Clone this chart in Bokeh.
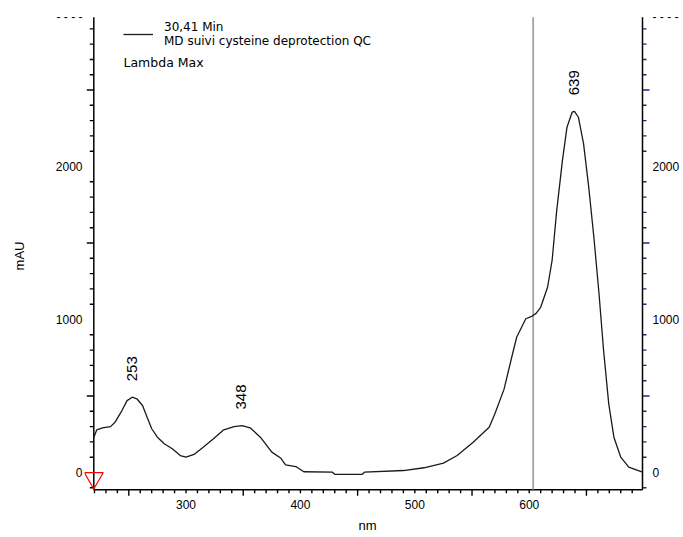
import math
from bokeh.plotting import figure
from bokeh.models import (Range1d, LinearAxis, FixedTicker, Label, Legend, LegendItem)
from bokeh.core.properties import value
from bokeh.embed import file_html
from bokeh.resources import INLINE

# ---------------- data ----------------
wavelength_nm = [219.5, 222, 227, 234, 238, 244, 248.5, 253, 257, 262, 266, 270, 275, 281,
                 288, 295, 300, 307, 315, 324, 333, 342, 349, 356, 365, 375, 383, 387, 396,
                 403, 428, 430, 454, 456, 490, 508, 525, 537, 551, 565, 570, 578, 584, 589,
                 597, 602, 606, 610, 616, 620, 624, 629, 633, 637.5, 639.5, 643, 647.5, 652,
                 656.5, 661, 665, 669.5, 674, 680, 687, 699]
absorbance_mau = [231, 279, 292, 300, 329, 405, 470, 492, 482, 438, 361, 286, 231, 188,
                  155, 111, 100, 118, 165, 220, 279, 300, 307, 292, 231, 133, 93, 50, 39,
                  5, 2, -12, -12, 2, 13, 31, 61, 111, 198, 296, 384, 545, 732, 884,
                  1005, 1020, 1040, 1080, 1211, 1386, 1712, 2039, 2257, 2355, 2361, 2322, 2148, 1865,
                  1538, 1168, 797, 449, 231, 100, 35, 2]

peak_nm = [253, 348, 639]
peak_mau = [492, 307, 2361]
peak_labels = ["253", "348", "639"]

x_tick_labels = [300, 400, 500, 600]
y_tick_labels = [0, 1000, 2000]
cursor_nm = [603.4]

legend_text = "30,41 Min\nMD suivi cysteine deprotection QC"
info_text = "Lambda Max"
x_title = "nm"
y_title = "mAU"

# axis extents of the plotted area
x_start, x_end = 219.4, 699.0
y_start, y_end = -113.0, 2976.0

# ---------------- layout (pixels) ----------------
W, H = 683, 537
AX_L, AX_R, AX_T, AX_B = 93.3, 642.0, 16.7, 489.3      # where the axis lines sit
FR_L, FR_R, FR_T, FR_B = 84, 650, 15, 496              # frame incl. room for the ticks
nm_px = (x_end - x_start) / (AX_R - AX_L)
mau_px = (y_end - y_start) / (AX_B - AX_T)

FONT = "Liberation Sans"
LEG_FONT = "DejaVu Sans"
TICK_FS = "12px"
TICK_W = 1.4

p = figure(width=W, height=H, output_backend="svg", toolbar_location=None,
           x_range=Range1d(x_start - (AX_L - FR_L) * nm_px, x_end + (FR_R - AX_R) * nm_px),
           y_range=Range1d(y_start - (FR_B - AX_B) * mau_px, y_end + (AX_T - FR_T) * mau_px),
           x_axis_location=None, y_axis_location=None,
           min_border_left=FR_L, min_border_right=W - FR_R,
           min_border_top=FR_T, min_border_bottom=H - FR_B)
p.grid.visible = False
p.outline_line_color = None
p.background_fill_color = None
p.border_fill_color = None

# ---- tick positions ----
y_long = [v for v in range(500, 3000, 1000)]
y_short = [v for v in range(-100, 3000, 100) if v % 500 != 0]
x_long = [v for v in range(250, 700, 100)]
x_short = [v for v in range(220, 700, 10) if v not in x_long]


# ---- axis lines and tick marks (drawn as segments, in data space) ----
def vticks(x_axis, values, length_px, direction, color):
    n = len(values)
    p.segment(x0=[x_axis] * n, y0=values,
              x1=[x_axis + direction * length_px * nm_px] * n, y1=values,
              line_color=color, line_width=TICK_W)


def hticks(values, length_px, color):
    n = len(values)
    p.segment(x0=values, y0=[y_start] * n, x1=values,
              y1=[y_start - length_px * mau_px] * n, line_color=color, line_width=TICK_W)


vticks(x_start, y_long, 7, -1, "black")
vticks(x_start, y_short, 4, -1, "black")
vticks(x_end, y_long, 7, 1, "#23238f")
vticks(x_end, y_short, 4, 1, "#23238f")
hticks(x_long, 6, "black")
hticks(x_short, 3.5, "black")

p.segment(x0=[x_start, x_end, x_start], y0=[y_start, y_start, y_start],
          x1=[x_start, x_end, x_end], y1=[y_end, y_end, y_start],
          line_color="black", line_width=1.5)

# cursor line
p.segment(x0=cursor_nm, y0=[y_start], x1=cursor_nm, y1=[y_end],
          line_color="#8c8c8c", line_width=1.4)

# ---- label-only axes ----
y_top = y_end
top_mark = "- - - -"


def y_label_axis(standoff):
    over = {v: str(v) for v in y_tick_labels}
    over[y_top] = top_mark
    return LinearAxis(ticker=FixedTicker(ticks=y_tick_labels + [y_top], minor_ticks=[]),
                      major_label_overrides=over,
                      major_tick_out=0, major_tick_in=0, axis_line_color=None,
                      major_tick_line_color=None, minor_tick_line_color=None,
                      major_label_standoff=standoff, major_label_text_font=FONT,
                      major_label_text_font_size=TICK_FS, major_label_text_color="black")


left_lab = y_label_axis(int(round(FR_L - 82)))
left_lab.axis_label = y_title
left_lab.axis_label_standoff = 26
left_lab.axis_label_text_font = FONT
left_lab.axis_label_text_font_size = "13px"
left_lab.axis_label_text_font_style = "normal"
left_lab.axis_label_text_color = "black"
p.add_layout(left_lab, "left")
p.add_layout(y_label_axis(2), "right")

bottom_lab = LinearAxis(ticker=FixedTicker(ticks=x_tick_labels, minor_ticks=[]),
                        major_tick_out=0, major_tick_in=0, axis_line_color=None,
                        major_tick_line_color=None, minor_tick_line_color=None,
                        major_label_standoff=3, major_label_text_font=FONT,
                        major_label_text_font_size=TICK_FS, major_label_text_color="black",
                        axis_label=x_title,
                        axis_label_standoff=6, axis_label_text_font=FONT,
                        axis_label_text_font_size="13px", axis_label_text_font_style="normal",
                        axis_label_text_color="black")
p.add_layout(bottom_lab, "below")

# spectrum
line_r = p.line(wavelength_nm, absorbance_mau, line_color="#1a1a1a", line_width=1.3)

# peak labels
p.text(x=peak_nm, y=peak_mau, text=peak_labels, angle=math.pi / 2,
       text_align="left", text_baseline="middle", y_offset=-16,
       text_font=value(FONT), text_font_size="15px", text_color="black")

# red origin marker sitting on the baseline at the start of the range
p.scatter(x=[x_start], y=[0 - 5.5 * mau_px], marker="inverted_triangle", size=19,
          fill_color=None, line_color="red", line_width=1.2)

# legend
leg = Legend(items=[LegendItem(label=value(legend_text), renderers=[line_r])],
             location=(123 - FR_L, FR_B - 48), orientation="vertical",
             border_line_color=None, background_fill_alpha=0,
             glyph_width=30, glyph_height=14, label_standoff=11, padding=0, margin=0,
             label_text_font=LEG_FONT, label_text_font_size="12px", label_text_color="black")
p.add_layout(leg)

p.add_layout(Label(x=123 - FR_L, y=FR_B - 62, x_units="screen", y_units="screen",
                   text=info_text, text_font=LEG_FONT, text_font_size="12.5px",
                   text_baseline="middle", text_color="black"))

open("out.html", "w").write(file_html(p, INLINE))
